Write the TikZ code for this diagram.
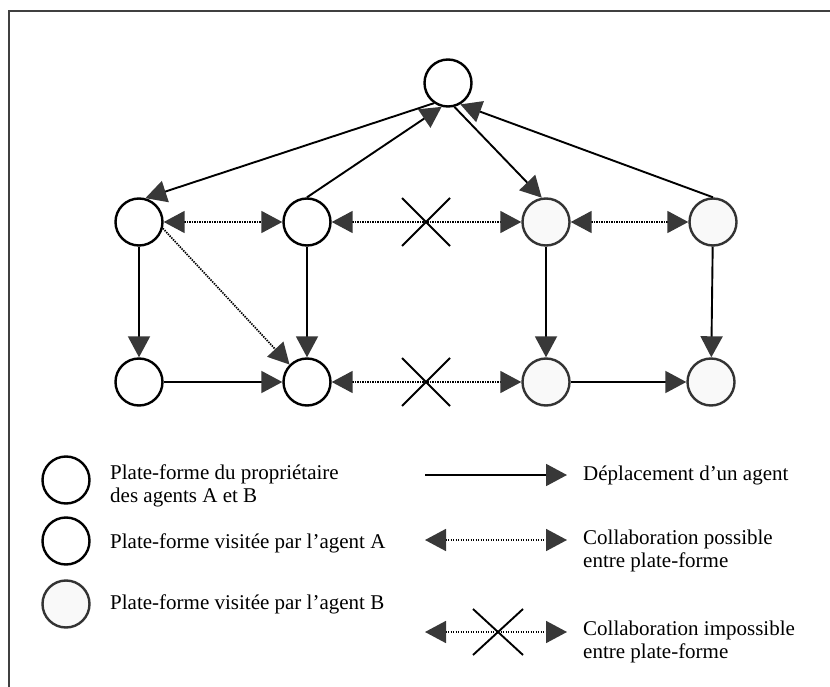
\documentclass[tikz,border=0pt]{standalone}
\usepackage{fontspec}
\setmainfont{Liberation Serif}
\usetikzlibrary{arrows.meta}
\begin{document}
\begin{tikzpicture}[x=1pt,y=-1pt,
  plat/.style={circle,draw=black,line width=2.4pt,minimum size=47pt,inner sep=0pt,fill=white},
  platb/.style={plat,draw=black!80,fill=gray!5},
  headtip/.tip={Triangle[length=21pt,width=22pt,color=black!78]},
  move/.style={line width=1.9pt,-headtip},
  collab/.style={line width=1.7pt,dash pattern=on 1.4pt off 1.1pt,headtip-headtip},
  collabone/.style={line width=1.7pt,dash pattern=on 1.4pt off 1.1pt,-headtip},
  cross/.style={line width=1.9pt},
  lbl/.style={anchor=west,align=left,inner sep=0pt,font=\fontsize{21}{23.5}\selectfont},
  frame/.style={line width=2.6pt,draw=black!75}
]
\useasboundingbox (0,0) rectangle (830,687);
% outer frame (top and left edges)
\draw[frame] (830,11) -- (9,11) -- (9,687);

% platforms
\node[plat]  (top) at (448,83) {};
\node[plat]  (n1) at (139,222) {};
\node[plat]  (n2) at (307,222) {};
\node[platb] (n3) at (546,222) {};
\node[platb] (n4) at (713,222) {};
\node[plat]  (n5) at (139,382) {};
\node[plat]  (n6) at (307,382) {};
\node[platb] (n7) at (546,382) {};
\node[platb] (n8) at (711,382) {};

% agent moves
\draw[move] (top.235) -- (n1.75);
\draw[move] (n2.north) -- (top.255);
\draw[move] (top.285) -- (n3.100);
\draw[move] (n4.north) -- (top.300);
\draw[move] (n1) -- (n5);
\draw[move] (n2) -- (n6);
\draw[move] (n3) -- (n7);
\draw[move] (n4) -- (n8);
\draw[move] (n5) -- (n6);
\draw[move] (n7) -- (n8);

% collaborations
\draw[collab] (n1) -- (n2);
\draw[collab] (n2) -- (n3);
\draw[collab] (n3) -- (n4);
\draw[collab] (n6) -- (n7);
\draw[collabone] (n1.-15) -- (n6.north west);

% impossible collaborations
\coordinate (x1) at (426,222);
\coordinate (x2) at (426,382);
\draw[cross] ([shift={(-24,-24)}]x1) -- ([shift={(24,24)}]x1)
             ([shift={(-24,24)}]x1) -- ([shift={(24,-24)}]x1);
\draw[cross] ([shift={(-24,-24)}]x2) -- ([shift={(24,24)}]x2)
             ([shift={(-24,24)}]x2) -- ([shift={(24,-24)}]x2);

% legend: platforms
\node[plat]  (k1) at (66,480) {};
\node[plat]  (k2) at (66,541) {};
\node[platb] (k3) at (66,604) {};
\node[lbl] (k1t) at (110,486) {Plate-forme du propriétaire\\des agents A et B};
\node[lbl] (k2t) at (110,543) {Plate-forme visitée par l’agent A};
\node[lbl] (k3t) at (110,604) {Plate-forme visitée par l’agent B};

% legend: links
\coordinate (m1a) at (425,475);
\coordinate (m1b) at (567,475);
\draw[move] (m1a) -- (m1b);
\node[lbl] (m1t) at (583,475) {Déplacement d’un agent};

\coordinate (m2a) at (425,540);
\coordinate (m2b) at (567,540);
\draw[collab] (m2a) -- (m2b);
\node[lbl] (m2t) at (583,551) {Collaboration possible\\entre plate-forme};

\coordinate (m3a) at (425,632);
\coordinate (m3b) at (567,632);
\coordinate (x3) at (498,632);
\draw[collab] (m3a) -- (m3b);
\draw[cross] ([shift={(-25,-23)}]x3) -- ([shift={(25,23)}]x3)
             ([shift={(-25,23)}]x3) -- ([shift={(25,-23)}]x3);
\node[lbl] (m3t) at (583,642) {Collaboration impossible\\entre plate-forme};
\end{tikzpicture}
\end{document}
